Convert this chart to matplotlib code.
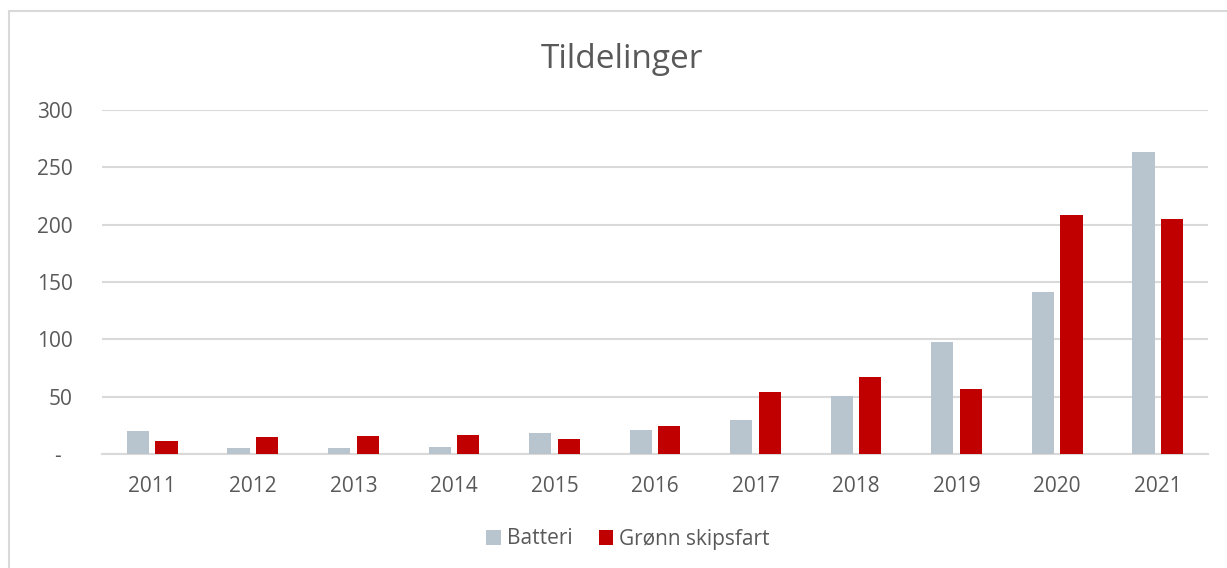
import numpy as np
import matplotlib.pyplot as plt
from matplotlib.patches import Rectangle, Patch

# -------------------------------
# Data
# -------------------------------
years = ['2011', '2012', '2013', '2014', '2015', '2016',
         '2017', '2018', '2019', '2020', '2021']
batteri = [20, 5, 5, 6, 18, 21, 30, 51, 98, 141, 263]
gronn = [11, 15, 16, 17, 13, 24, 54, 67, 57, 208, 205]

y_ticks = [0, 50, 100, 150, 200, 250, 300]
y_labels = ['-  ', '50', '100', '150', '200', '250', '300']

# -------------------------------
# Style
# -------------------------------
C_GRAY = '#B8C4CE'
C_RED = '#C00000'
C_TEXT = '#595959'
C_GRID = '#D9D9D9'

W = 0.22
OFF = 0.142

plt.rcParams['font.family'] = ['Open Sans', 'DejaVu Sans']

fig = plt.figure(figsize=(12.27, 5.68), dpi=100)
ax = fig.add_axes([102 / 1227, 1 - 454 / 568, (1208 - 102) / 1227, (454 - 110) / 568])

x = np.arange(len(years))
ax.bar(x - OFF, batteri, width=W, color=C_GRAY, zorder=3)
ax.bar(x + OFF, gronn, width=W, color=C_RED, zorder=3)

ax.set_xlim(-0.5, len(years) - 0.5)
ax.set_ylim(0, 300)
ax.set_yticks(y_ticks)
ax.set_yticklabels(y_labels)
ax.set_xticks(x)
ax.set_xticklabels(years)

ax.grid(axis='y', color=C_GRID, lw=1.5, zorder=0)
ax.tick_params(axis='both', length=0, labelsize=15, labelcolor=C_TEXT)
ax.tick_params(axis='y', pad=21)
ax.tick_params(axis='x', pad=16)
for s in ['top', 'right', 'left']:
    ax.spines[s].set_visible(False)
ax.spines['bottom'].set_color(C_GRID)
ax.spines['bottom'].set_linewidth(1.5)

# Title
fig.text(622 / 1227, 1 - 59 / 568, 'Tildelinger', ha='center', va='center',
         fontsize=24, color=C_TEXT)

# Legend
handles = [Patch(facecolor=C_GRAY, label='Batteri'),
           Patch(facecolor=C_RED, label='Grønn skipsfart')]
fig.legend(handles=handles, loc='center', bbox_to_anchor=(628 / 1227, 1 - 539 / 568),
           ncol=2, frameon=False, fontsize=15, labelcolor=C_TEXT,
           handlelength=0.7, handleheight=0.7, handletextpad=0.3, columnspacing=1.25)

# Chart border
fig.add_artist(Rectangle((9 / 1227, -0.1), 1.2, (568 - 11) / 568 + 0.1,
                         transform=fig.transFigure, fill=False,
                         edgecolor=C_GRID, lw=1.5))

plt.savefig('out.png', dpi=100)
